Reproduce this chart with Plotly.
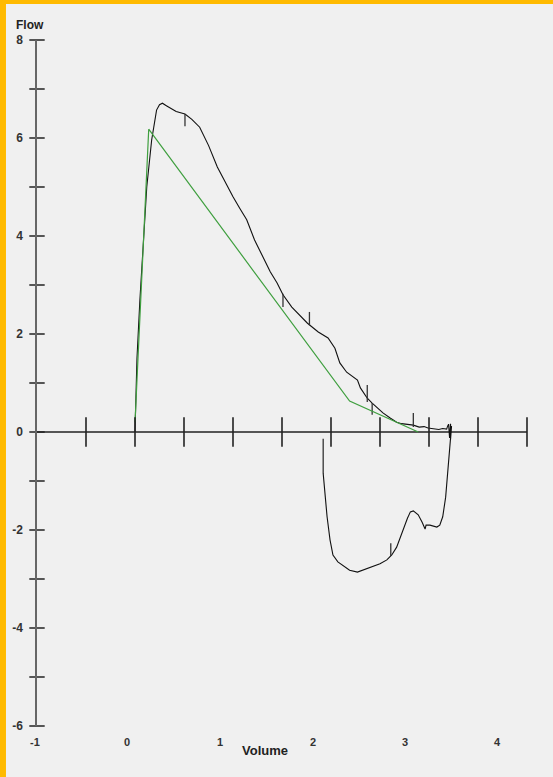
import plotly.graph_objects as go

# ---- data ----
exp_volume = [0.00, 0.02, 0.05, 0.08, 0.12, 0.17, 0.22, 0.25, 0.28, 0.32, 0.36, 0.42, 0.51,
              0.58, 0.66, 0.75, 0.84, 0.92, 1.00, 1.07, 1.14, 1.22, 1.31, 1.38, 1.45, 1.51,
              1.60, 1.68, 1.76, 1.87, 1.97, 2.04, 2.09, 2.16, 2.27, 2.30, 2.37, 2.42, 2.47,
              2.53, 2.60, 2.67, 2.72, 2.78, 2.84, 2.90, 2.95, 2.99, 3.05, 3.10, 3.14, 3.18]
exp_flow = [0.00, 1.50, 2.70, 3.80, 5.00, 5.96, 6.57, 6.68, 6.71, 6.66, 6.61, 6.54, 6.49,
            6.38, 6.22, 5.85, 5.41, 5.10, 4.80, 4.56, 4.33, 3.92, 3.57, 3.27, 3.04, 2.80,
            2.55, 2.39, 2.22, 2.04, 1.92, 1.71, 1.41, 1.22, 1.06, 0.90, 0.69, 0.59, 0.49,
            0.39, 0.29, 0.20, 0.17, 0.15, 0.14, 0.10, 0.11, 0.08, 0.07, 0.05, 0.07, 0.06]

# oscillation at end of expiration
end_volume = [3.19, 3.20, 3.21, 3.22, 3.22, 3.23, 3.22]
end_flow = [0.12, 0.16, -0.12, 0.17, -0.15, 0.12, -0.10]

insp_volume = [3.22, 3.21, 3.19, 3.17, 3.14, 3.11, 3.08, 3.04, 3.01, 2.97, 2.96, 2.93,
               2.89, 2.84, 2.81, 2.78, 2.72, 2.67, 2.62, 2.57, 2.50, 2.40, 2.33, 2.27,
               2.19, 2.12, 2.07, 2.02, 1.99, 1.96, 1.94, 1.92, 1.92]
insp_flow = [-0.10, -0.37, -0.84, -1.33, -1.73, -1.90, -1.94, -1.92, -1.90, -1.90, -1.98, -1.84,
             -1.69, -1.61, -1.63, -1.76, -2.06, -2.35, -2.51, -2.61, -2.69, -2.76, -2.82, -2.86,
             -2.82, -2.71, -2.65, -2.51, -2.20, -1.73, -1.18, -0.84, -0.14]

# small vertical time markers on the curve
marker_volume = [0.51, 1.51, 1.78, 2.37, 2.42, 2.84, 2.61]
marker_flow_a = [6.49, 2.82, 2.45, 0.96, 0.59, 0.39, -2.27]
marker_flow_b = [6.24, 2.55, 2.18, 0.61, 0.35, 0.10, -2.53]

pred_volume = [0.00, 0.14, 2.19, 2.89]
pred_flow = [0.20, 6.18, 0.63, 0.00]

x_major_ticks = [-0.5, 0, 0.5, 1, 1.5, 2, 2.5, 3, 3.5, 4]
y_minor_ticks = [-6, -5, -4, -3, -2, -1, 0, 1, 2, 3, 4, 5, 6, 7, 8]
y_label_vals = [-6, -4, -2, 0, 2, 4, 6, 8]
x_tick_labels = ["-1", "0", "1", "2", "3", "4"]

# ---- figure ----
FONT = "Liberation Sans, Arial, sans-serif"
BG = "#f0f0f0"
ORANGE = "#ffba00"
XMIN, XMAX = -1, 4

fig = go.Figure()

loop_x = exp_volume + end_volume + insp_volume
loop_y = exp_flow + end_flow + insp_flow
fig.add_trace(go.Scatter(x=loop_x, y=loop_y, mode="lines",
                         line=dict(color="#111111", width=1.1), hoverinfo="skip"))

mx, my = [], []
for v, a, b in zip(marker_volume, marker_flow_a, marker_flow_b):
    mx += [v, v, None]
    my += [a, b, None]
fig.add_trace(go.Scatter(x=mx, y=my, mode="lines",
                         line=dict(color="#333333", width=1.3), hoverinfo="skip"))

fig.add_trace(go.Scatter(x=pred_volume, y=pred_flow, mode="lines",
                         line=dict(color="#3f9f3f", width=1.2), hoverinfo="skip"))

# crossing ticks on the axes
fig.add_trace(go.Scatter(x=[XMIN] * len(y_minor_ticks), y=y_minor_ticks, mode="markers",
                         marker=dict(symbol="line-ew", size=11,
                                     line=dict(color="#222222", width=1.5)),
                         cliponaxis=False, hoverinfo="skip"))
fig.add_trace(go.Scatter(x=x_major_ticks, y=[0] * len(x_major_ticks), mode="markers",
                         marker=dict(symbol="line-ns", size=21,
                                     line=dict(color="#222222", width=1.6)),
                         cliponaxis=False, hoverinfo="skip"))

# x tick labels (drawn slightly compressed, as in the reference)
x_label_pos = [-1.02, -0.08, 0.87, 1.82, 2.75, 3.70]
annotations = []
for xp, t in zip(x_label_pos, x_tick_labels):
    annotations.append(dict(x=(xp - XMIN) / (XMAX - XMIN), y=-0.0233, xref="paper", yref="paper",
                            text="<b>" + t + "</b>", showarrow=False,
                            xanchor="center", yanchor="middle",
                            font=dict(family=FONT, size=11, color="#333333")))
annotations.append(dict(x=-0.0143, y=1.0219, xref="paper", yref="paper", text="<b>Flow</b>",
                        showarrow=False, xanchor="center", yanchor="middle",
                        font=dict(family=FONT, size=12, color="#222222")))
annotations.append(dict(x=0.465, y=-0.035, xref="paper", yref="paper", text="<b>Volume</b>",
                        showarrow=False, xanchor="center", yanchor="middle",
                        font=dict(family=FONT, size=13, color="#222222")))

shapes = [
    dict(type="rect", xref="paper", yref="paper", x0=-0.08, x1=-0.0633, y0=-0.08, y1=1.07,
         fillcolor=ORANGE, line=dict(width=0), layer="above"),
    dict(type="rect", xref="paper", yref="paper", x0=-0.08, x1=1.06, y0=1.0525, y1=1.07,
         fillcolor=ORANGE, line=dict(width=0), layer="above"),
]

fig.update_layout(
    width=553, height=777,
    margin=dict(l=37, r=26, t=40, b=51),
    paper_bgcolor=BG, plot_bgcolor=BG,
    showlegend=False,
    annotations=annotations,
    shapes=shapes,
    xaxis=dict(range=[XMIN, XMAX], showgrid=False, zeroline=False, showline=False,
               showticklabels=False, ticks="", fixedrange=True),
    yaxis=dict(range=[-6, 8], showgrid=False, zeroline=True, zerolinecolor="#555555",
               zerolinewidth=1.5, showline=True, linecolor="#666666", linewidth=1.5,
               tickvals=y_label_vals, ticktext=["<b>%d</b>" % v for v in y_label_vals],
               ticks="", ticklabelstandoff=10,
               tickfont=dict(family=FONT, size=12, color="#333333"), fixedrange=True),
)

fig.write_html("out.html", config={"displayModeBar": False},
               post_script="document.body.style.margin='0';")
